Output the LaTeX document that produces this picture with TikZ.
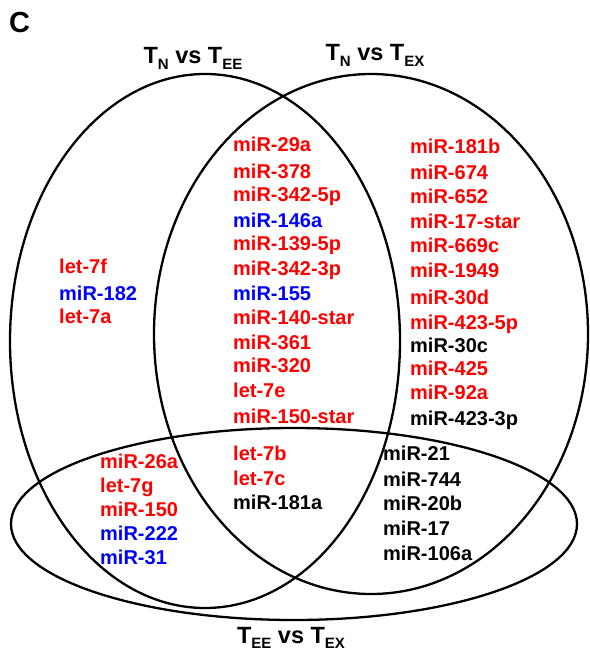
\documentclass[tikz,border=0pt]{standalone}
\usepackage{fontspec}
\setmainfont{Liberation Sans}
\newcommand\subtxt[1]{\raisebox{-0.22em}{\fontsize{15}{15}\selectfont #1}}
\begin{document}
\begin{tikzpicture}[x=1pt,y=-1pt,
  ell/.style={line width=2.3pt,black},
  lab/.style={font=\fontsize{20}{22}\selectfont\bfseries, inner sep=0pt, anchor=base west},
  rd/.style={lab,text=red},
  bl/.style={lab,text=blue},
  bk/.style={lab,text=black},
  ttl/.style={font=\fontsize{23.5}{26}\selectfont\bfseries, inner sep=0pt, anchor=base}]
\useasboundingbox (0,0) rectangle (589,652);
% sets
\draw[ell] (205,341) ellipse [x radius=195pt, y radius=267pt];
\draw[ell] (371,334) ellipse [x radius=217pt, y radius=260pt];
\draw[ell] (294,524) ellipse [x radius=283pt, y radius=96pt];
% panel letter and titles
\node[font=\fontsize{29}{30}\selectfont\bfseries, inner sep=0pt, anchor=base west] (panel) at (9,33) {C};
\node[ttl] (tA) at (193,64) {T\subtxt{N} vs T\subtxt{EE}};
\node[ttl] (tB) at (375,61) {T\subtxt{N} vs T\subtxt{EX}};
\node[ttl] (tC) at (291,643) {T\subtxt{EE} vs T\subtxt{EX}};
% left only
\node[rd] (l1) at (59,273) {let-7f};
\node[bl] (l2) at (59,300) {miR-182};
\node[rd] (l3) at (59,323) {let-7a};
% left & right
\node[rd] (m1) at (233,152) {miR-29a};
\node[rd] (m2) at (233,179) {miR-378};
\node[rd] (m3) at (233,202) {miR-342-5p};
\node[bl] (m4) at (233,227) {miR-146a};
\node[rd] (m5) at (233,250) {miR-139-5p};
\node[rd] (m6) at (233,275) {miR-342-3p};
\node[bl] (m7) at (233,300) {miR-155};
\node[rd] (m8) at (233,324) {miR-140-star};
\node[rd] (m9) at (233,349) {miR-361};
\node[rd] (m10) at (233,372) {miR-320};
\node[rd] (m11) at (233,397) {let-7e};
\node[rd] (m12) at (233,423) {miR-150-star};
% right only
\node[rd] (r1) at (410,154) {miR-181b};
\node[rd] (r2) at (410,180) {miR-674};
\node[rd] (r3) at (410,204) {miR-652};
\node[rd] (r4) at (410,229) {miR-17-star};
\node[rd] (r5) at (410,252) {miR-669c};
\node[rd] (r6) at (410,277) {miR-1949};
\node[rd] (r7) at (410,304) {miR-30d};
\node[rd] (r8) at (410,329) {miR-423-5p};
\node[bk] (r9) at (410,352) {miR-30c};
\node[rd] (r10) at (410,375) {miR-425};
\node[rd] (r11) at (410,399) {miR-92a};
\node[bk] (r12) at (410,425) {miR-423-3p};
% left & bottom
\node[rd] (lb1) at (100,468) {miR-26a};
\node[rd] (lb2) at (100,492) {let-7g};
\node[rd] (lb3) at (100,516) {miR-150};
\node[bl] (lb4) at (100,540) {miR-222};
\node[bl] (lb5) at (100,564) {miR-31};
% all three
\node[rd] (c1) at (233,460) {let-7b};
\node[rd] (c2) at (233,485) {let-7c};
\node[bk] (c3) at (233,509) {miR-181a};
% right & bottom
\node[bk] (rb1) at (383,460) {miR-21};
\node[bk] (rb2) at (383,486) {miR-744};
\node[bk] (rb3) at (383,510) {miR-20b};
\node[bk] (rb4) at (383,535) {miR-17};
\node[bk] (rb5) at (383,560) {miR-106a};
\end{tikzpicture}
\end{document}
